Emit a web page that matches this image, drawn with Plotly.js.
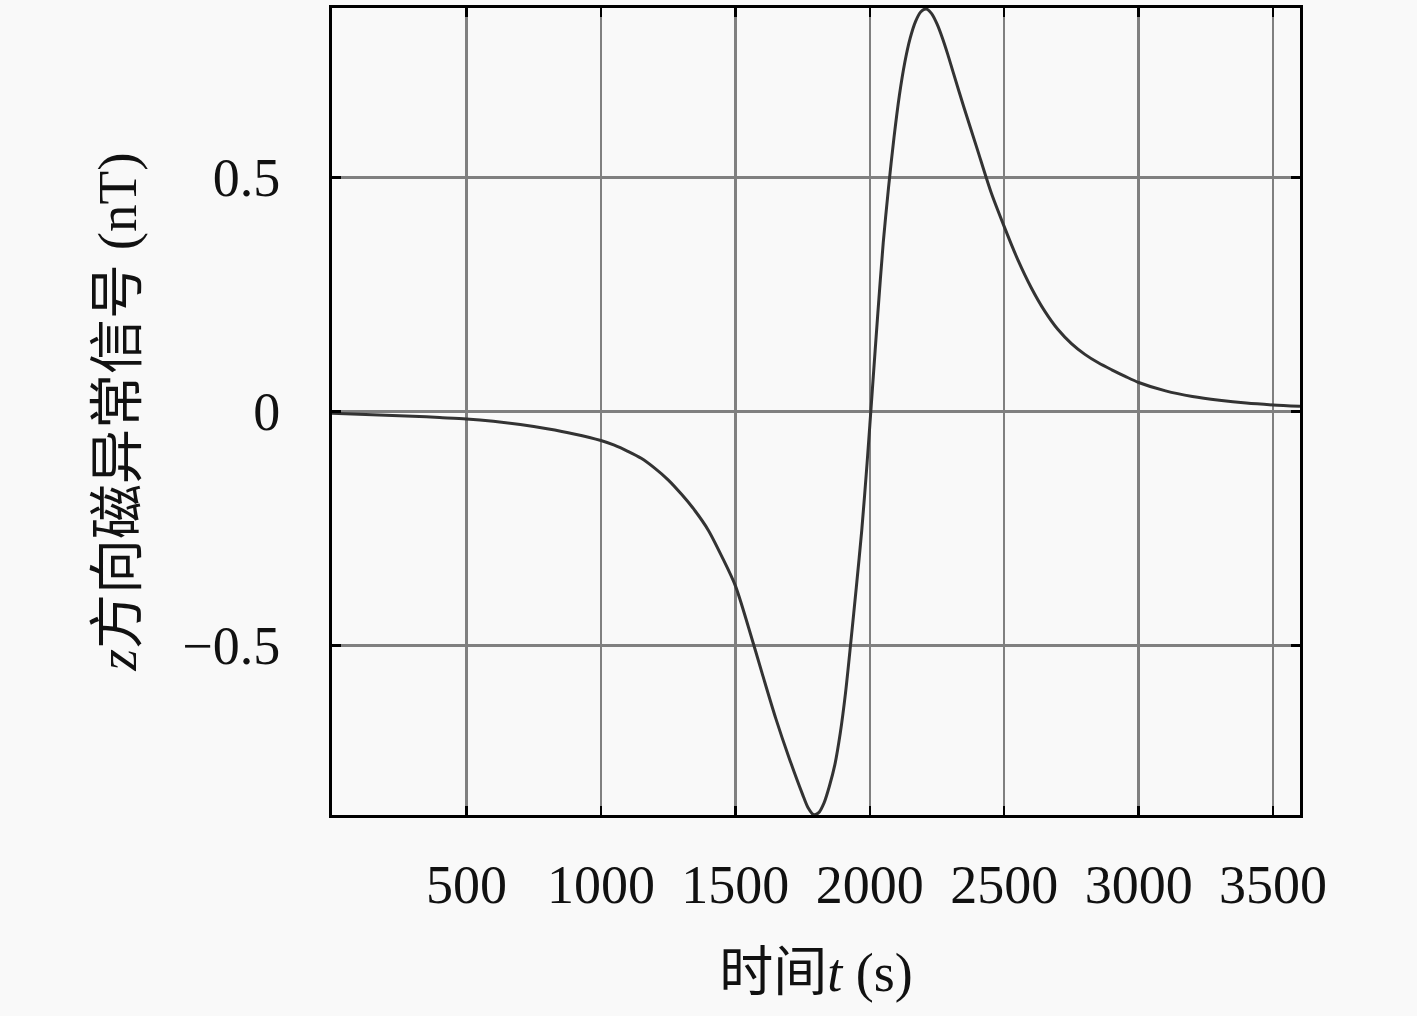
<!DOCTYPE html>
<html>
<head>
<meta charset="utf-8">
<script src="https://cdn.plot.ly/plotly-3.0.1.min.js"></script>
<style>
  html, body { margin: 0; padding: 0; background: #f9f9f9; }
  #chart { width: 1417px; height: 1016px; }
</style>
</head>
<body>
<div id="chart"></div>
<script>
// time (s) and z-direction magnetic anomaly (nT)
const timeS = [0, 100, 200, 300, 400, 500, 600, 700, 800, 900, 1000, 1050, 1100, 1150, 1200,
    1250, 1300, 1350, 1400, 1450, 1500, 1550, 1600, 1650, 1700, 1750, 1770, 1790, 1810, 1830,
    1850, 1870, 1890, 1910, 1930, 1950, 1970, 1990, 2010, 2030, 2050, 2070, 2090, 2110, 2130,
    2150, 2170, 2190, 2210, 2230, 2250, 2270, 2290, 2310, 2350, 2400, 2450, 2500, 2550, 2600,
    2650, 2700, 2750, 2800, 2850, 2900, 2950, 3000, 3100, 3200, 3300, 3400, 3500, 3600]
const anomalyNT = [-0.004, -0.006, -0.008, -0.010, -0.013, -0.016, -0.021, -0.028, -0.037,
    -0.048, -0.062, -0.072, -0.085, -0.100, -0.121, -0.146, -0.177, -0.212, -0.254, -0.31,
    -0.372, -0.463, -0.56, -0.655, -0.74, -0.818, -0.846, -0.861, -0.857, -0.836, -0.80, -0.755,
    -0.688, -0.60, -0.49, -0.375, -0.255, -0.11, 0.05, 0.21, 0.36, 0.48, 0.585, 0.675, 0.745,
    0.797, 0.833, 0.854, 0.860, 0.850, 0.828, 0.798, 0.763, 0.725, 0.65, 0.56, 0.47, 0.395,
    0.325, 0.265, 0.215, 0.175, 0.145, 0.122, 0.104, 0.089, 0.075, 0.062, 0.044, 0.032, 0.024,
    0.018, 0.014, 0.011]

const xTicks = [500, 1000, 1500, 2000, 2500, 3000, 3500]
const yTicks = [-0.5, 0, 0.5]
const yTickText = ['\u22120.5', '0', '0.5']

const fontFamily = '"Liberation Serif", "Noto Sans CJK SC", serif'

const trace = {
    x: timeS,
    y: anomalyNT,
    mode: 'lines',
    line: { color: '#333333', width: 3, shape: 'spline', smoothing: 0.8 },
    hoverinfo: 'x+y'
}

const axisCommon = {
    showline: true,
    linecolor: '#000000',
    linewidth: 3,
    mirror: 'ticks',
    ticks: 'inside',
    ticklen: 9,
    tickwidth: 2.5,
    tickcolor: '#000000',
    showgrid: true,
    gridcolor: '#808080',
    gridwidth: 2.5,
    zeroline: false,
    tickfont: { family: fontFamily, size: 54, color: '#111111' }
}

const layout = {
    xaxis: {
        ...axisCommon,
        range: [0, 3600],
        tickmode: 'array',
        tickvals: xTicks,
        ticktext: xTicks.map(String),
        ticklabelstandoff: 20,
        title: {
            text: '时间<i>t</i> (s)',
            font: { family: fontFamily, size: 54, color: '#111111' },
            standoff: 40
        }
    },
    yaxis: {
        ...axisCommon,
        range: [-0.862, 0.862],
        tickmode: 'array',
        tickvals: yTicks,
        ticktext: yTickText,
        ticklabelstandoff: 38,
        title: {
            text: '<i>z</i>方向磁异常信号 (nT)',
            font: { family: fontFamily, size: 55, color: '#111111' },
            standoff: 28
        }
    },
    margin: { l: 332, r: 117, t: 8, b: 201 },
    paper_bgcolor: '#f9f9f9',
    plot_bgcolor: '#f9f9f9',
    showlegend: false
}

Plotly.newPlot('chart', [trace], layout, { displayModeBar: false, staticPlot: true })
</script>
</body>
</html>
